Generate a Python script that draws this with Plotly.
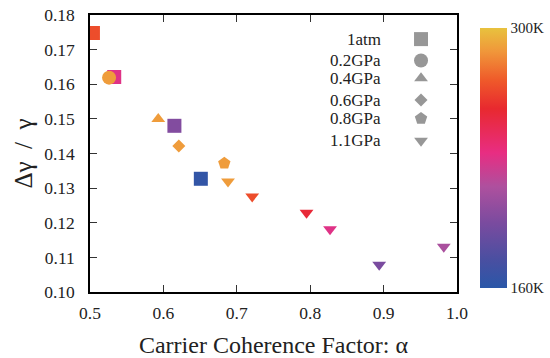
import plotly.graph_objects as go

# Carrier coherence factor (alpha), relative linewidth and temperature (K) per pressure
pressures = ["1atm", "0.2GPa", "0.4GPa", "0.6GPa", "0.8GPa", "1.1GPa"]
symbols = ["square", "circle", "triangle-up", "diamond", "pentagon", "triangle-down"]
sizes = [14, 14, 12, 10, 13, 12]

alpha_1atm = [0.504, 0.533, 0.615, 0.651]
ratio_1atm = [0.1748, 0.1621, 0.1480, 0.1327]
temp_1atm = [268, 230, 198, 164]

alpha_02 = [0.526]
ratio_02 = [0.1619]
temp_02 = [289]

alpha_04 = [0.593]
ratio_04 = [0.1500]
temp_04 = [289]

alpha_06 = [0.621]
ratio_06 = [0.1422]
temp_06 = [289]

alpha_08 = [0.683]
ratio_08 = [0.1372]
temp_08 = [289]

alpha_11 = [0.688, 0.721, 0.795, 0.827, 0.894, 0.982]
ratio_11 = [0.1319, 0.1276, 0.1229, 0.1181, 0.1079, 0.1131]
temp_11 = [289, 268, 254, 230, 195, 213]

alphas = [alpha_1atm, alpha_02, alpha_04, alpha_06, alpha_08, alpha_11]
ratios = [ratio_1atm, ratio_02, ratio_04, ratio_06, ratio_08, ratio_11]
temps = [temp_1atm, temp_02, temp_04, temp_06, temp_08, temp_11]

t_min, t_max = 160, 300
colorbar_ticks = [160, 300]
colorbar_labels = ["160K", "300K"]

x_ticks = [0.5, 0.6, 0.7, 0.8, 0.9, 1.0]
y_ticks = [0.10, 0.11, 0.12, 0.13, 0.14, 0.15, 0.16, 0.17, 0.18]

temp_scale = [
    [0.00, "#2A57A8"],
    [0.11, "#4A4FA1"],
    [0.25, "#7A4B9F"],
    [0.39, "#AE509E"],
    [0.52, "#E82D82"],
    [0.69, "#E8292F"],
    [0.80, "#EF5A2A"],
    [0.91, "#F0973A"],
    [1.00, "#E8C23E"],
]

SERIF = "Liberation Serif"
TEXT = "#222"

fig = go.Figure()

for name, sym, sz, xs, ys, ts in zip(pressures, symbols, sizes, alphas, ratios, temps):
    fig.add_trace(go.Scatter(
        x=xs, y=ys, mode="markers", name=name,
        marker=dict(symbol=sym, size=sz, color=ts, coloraxis="coloraxis",
                    line=dict(width=0)),
        showlegend=False,
    ))

# Key: grey symbols on an overlay axis spanning the plot area, labels to their left
key_x = 0.902
key_y = [0.913, 0.836, 0.772, 0.693, 0.626, 0.546]
fig.add_trace(go.Scatter(
    x=[key_x] * len(pressures), y=key_y, mode="markers",
    marker=dict(symbol=symbols, size=sizes, color="#6B6B6B", line=dict(width=0)),
    xaxis="x2", yaxis="y2", showlegend=False, hoverinfo="skip",
))
for name, ky in zip(pressures, key_y):
    fig.add_annotation(
        x=0.799, y=ky, xref="x2", yref="y2", text=name, showarrow=False,
        xanchor="right", yanchor="middle",
        font=dict(family=SERIF, size=17, color=TEXT),
    )

axis_common = dict(
    showgrid=False, zeroline=False, showline=True, linecolor="black", linewidth=1.5,
    mirror="ticks", ticks="inside", ticklen=7, tickcolor="#333", tickwidth=1.3,
    tickfont=dict(family=SERIF, size=17.5, color=TEXT),
)

fig.update_layout(
    width=550, height=358,
    margin=dict(l=90, r=93, t=15, b=66, autoexpand=False),
    paper_bgcolor="white", plot_bgcolor="white",
    xaxis=dict(
        range=[0.5, 1.0], tickvals=x_ticks, tickformat=".1f", ticklabelstandoff=4,
        title=dict(text="Carrier Coherence Factor: α",
                   font=dict(family=SERIF, size=24, color=TEXT), standoff=17),
        **axis_common,
    ),
    yaxis=dict(
        range=[0.10, 0.18], tickvals=y_ticks, tickformat=".2f", ticklabelstandoff=10,
        title=dict(text="Δγ\u2002/\u2002γ", font=dict(family=SERIF, size=25, color=TEXT),
                   standoff=4),
        **axis_common,
    ),
    xaxis2=dict(range=[0, 1], overlaying="x", visible=False, fixedrange=True),
    yaxis2=dict(range=[0, 1], overlaying="y", visible=False, fixedrange=True),
    coloraxis=dict(
        cmin=t_min, cmax=t_max, colorscale=temp_scale,
        colorbar=dict(
            x=1.0635, xanchor="left", xref="paper", xpad=0, ypad=0,
            y=0.484, yanchor="middle", len=0.939, lenmode="fraction",
            thickness=27, outlinewidth=0, ticks="",
            tickvals=colorbar_ticks, ticktext=colorbar_labels,
            tickfont=dict(family=SERIF, size=15, color=TEXT),
            ticklabelposition="outside",
        ),
    ),
)

fig.write_html("out.html")
